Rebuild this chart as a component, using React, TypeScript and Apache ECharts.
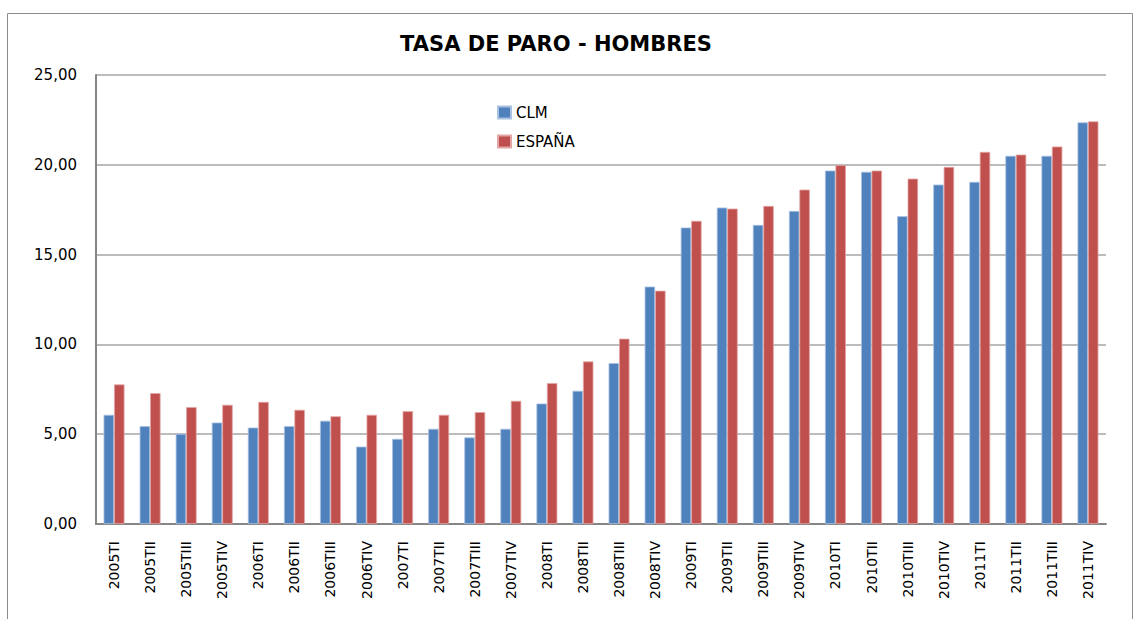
import React, { useEffect, useRef } from "react";
import * as echarts from "echarts";

const categories = [
  "2005TI", "2005TII", "2005TIII", "2005TIV",
  "2006TI", "2006TII", "2006TIII", "2006TIV",
  "2007TI", "2007TII", "2007TIII", "2007TIV",
  "2008TI", "2008TII", "2008TIII", "2008TIV",
  "2009TI", "2009TII", "2009TIII", "2009TIV",
  "2010TI", "2010TII", "2010TIII", "2010TIV",
  "2011TI", "2011TII", "2011TIII", "2011TIV",
];

const clm = [
  6.08, 5.45, 5.02, 5.65,
  5.37, 5.45, 5.75, 4.31,
  4.74, 5.3, 4.82, 5.3,
  6.71, 7.42, 8.96, 13.22,
  16.51, 17.62, 16.65, 17.43,
  19.68, 19.61, 17.14, 18.9,
  19.05, 20.5, 20.5, 22.36,
];

const espana = [
  7.77, 7.29, 6.51, 6.64,
  6.8, 6.36, 6.0, 6.08,
  6.28, 6.08, 6.23, 6.86,
  7.84, 9.05, 10.32, 12.99,
  16.88, 17.56, 17.71, 18.62,
  19.98, 19.68, 19.23, 19.88,
  20.72, 20.57, 21.02, 22.42,
];

const FONT = "DejaVu Sans";

export default function App() {
  const ref = useRef<HTMLDivElement>(null);
  useEffect(() => {
    if (!ref.current) return;
    const chart = echarts.init(ref.current, undefined, { renderer: "svg" });
    chart.setOption({
      animation: false,
      backgroundColor: "#ffffff",
      textStyle: { fontFamily: FONT },
      title: {
        text: "TASA DE PARO - HOMBRES",
        left: 556,
        textAlign: "center",
        top: 33,
        padding: 0,
        textStyle: { fontFamily: FONT, fontSize: 21, fontWeight: "bold", color: "#000" },
      },
      legend: {
        orient: "vertical",
        left: 497,
        top: 105,
        padding: 0,
        itemWidth: 13,
        itemHeight: 12,
        itemGap: 14,
        icon: "rect",
        textStyle: { fontFamily: FONT, fontSize: 15, color: "#000" },
        data: ["CLM", "ESPAÑA"],
      },
      graphic: [
        {
          type: "rect",
          shape: { x: 7.5, y: 13.5, width: 1125, height: 700 },
          style: { fill: "none", stroke: "#8c8c8c", lineWidth: 1 },
          silent: true,
        },
      ],
      grid: { left: 96, right: 35, top: 75, bottom: 95, containLabel: false },
      xAxis: {
        type: "category",
        data: categories,
        axisLine: { lineStyle: { color: "#868686", width: 2 } },
        axisTick: { show: false },
        axisLabel: {
          rotate: 90,
          margin: 17,
          fontFamily: FONT,
          fontSize: 14,
          color: "#000",
          interval: 0,
        },
      },
      yAxis: {
        type: "value",
        min: 0,
        max: 25,
        interval: 5,
        axisLine: { show: true, lineStyle: { color: "#868686", width: 2 } },
        axisTick: { show: false },
        splitLine: { lineStyle: { color: "#a6a6a6", width: 1.5 } },
        axisLabel: {
          margin: 19,
          fontFamily: FONT,
          fontSize: 15,
          color: "#000",
          formatter: (v: number) => v.toFixed(2).replace(".", ","),
        },
      },
      series: [
        {
          name: "CLM",
          type: "bar",
          data: clm,
          barGap: "0%",
          barCategoryGap: "42%",
          itemStyle: { color: "#4F81BD", borderColor: "#a9c2e2", borderWidth: 0.8 },
        },
        {
          name: "ESPAÑA",
          type: "bar",
          data: espana,
          itemStyle: { color: "#C0504D", borderColor: "#e2a6a4", borderWidth: 0.8 },
        },
      ],
    });
    return () => chart.dispose();
  }, []);
  return (
    <div
      ref={ref}
      style={{ position: "fixed", left: 0, top: 0, width: 1141, height: 619 }}
    />
  );
}
